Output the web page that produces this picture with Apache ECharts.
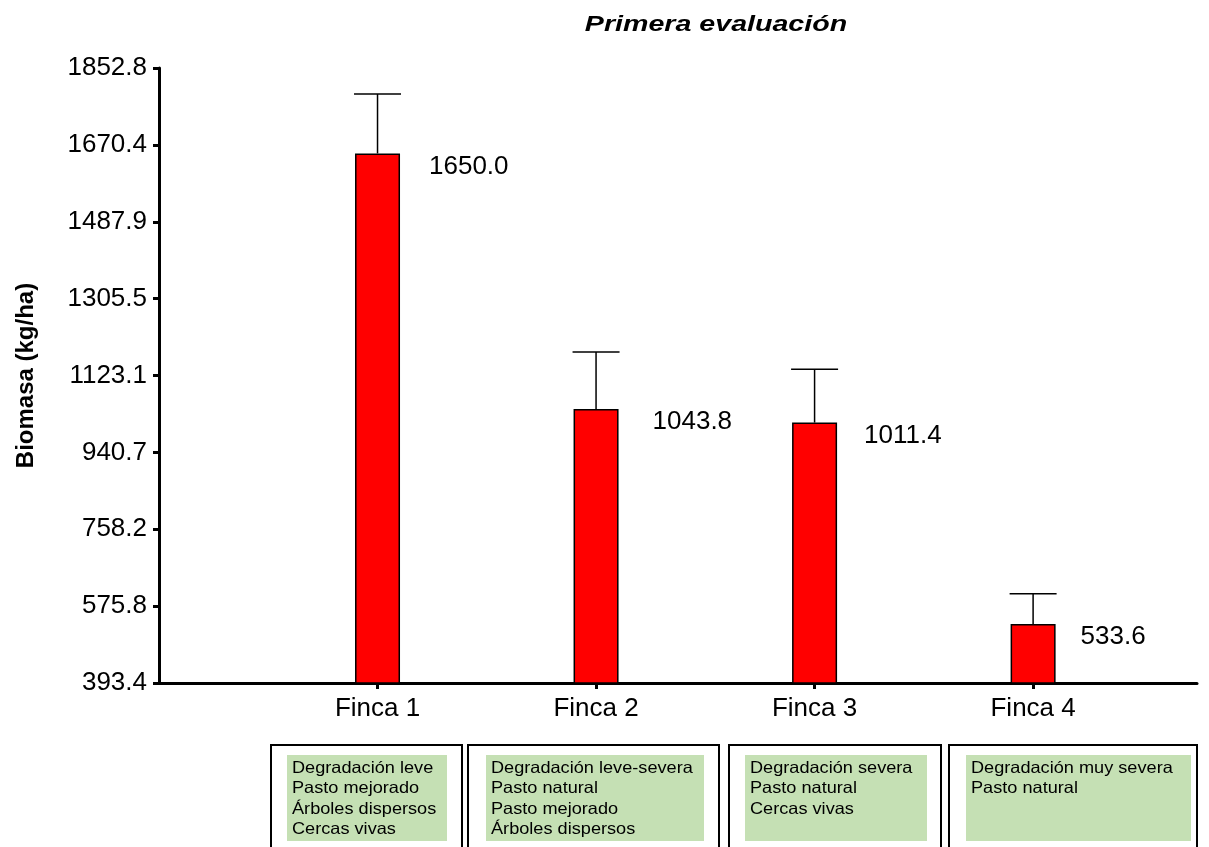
<!DOCTYPE html>
<html>
<head>
<meta charset="utf-8">
<script src="https://cdn.jsdelivr.net/npm/echarts@6/dist/echarts.min.js"></script>
<style>
html,body{margin:0;padding:0;background:#fff;}
#chart{width:1209px;height:847px;}
</style>
</head>
<body>
<div id="chart"></div>
<script>
const categories = ['Finca 1', 'Finca 2', 'Finca 3', 'Finca 4'];
const positions = [1, 2, 3, 4];
const biomasa = [1650.0, 1043.8, 1011.4, 533.6];
const errorTop = [1791, 1179, 1138, 605];
const yTicks = [393.4, 575.8, 758.2, 940.7, 1123.1, 1305.5, 1487.9, 1670.4, 1852.8];
const descriptions = [
  ['Degradación leve', 'Pasto mejorado', 'Árboles dispersos', 'Cercas vivas'],
  ['Degradación leve-severa', 'Pasto natural', 'Pasto mejorado', 'Árboles dispersos'],
  ['Degradación severa', 'Pasto natural', 'Cercas vivas'],
  ['Degradación muy severa', 'Pasto natural']
];
const titleText = 'Primera evaluación';
const yName = 'Biomasa (kg/ha)';

const FONT = '"Liberation Sans", Arial, sans-serif';
const chart = echarts.init(document.getElementById('chart'), null, {renderer: 'canvas'});

// styling: horizontal offset of each value label from the bar's left edge
const labelDx = [74, 79, 72, 70];

// annotation boxes below the axis
const boxes = [
  {x: 271, w: 191, gx: 287, gw: 160},
  {x: 468, w: 251, gx: 486, gw: 218},
  {x: 729, w: 212, gx: 745, gw: 182},
  {x: 949, w: 248, gx: 966, gw: 225}
];
const graphics = [];
boxes.forEach((b, i) => {
  graphics.push({type: 'rect', x: b.x, y: 745, shape: {width: b.w, height: 110},
    style: {fill: '#fff', stroke: '#000', lineWidth: 2}, silent: true});
  graphics.push({type: 'rect', x: b.gx, y: 755, shape: {width: b.gw, height: 86},
    style: {fill: '#C5E0B4'}, silent: true});
  graphics.push({type: 'text', x: b.gx + 5, y: 758, scaleX: 1.1,
    style: {text: descriptions[i].join('\n'), font: '16.5px ' + FONT, fill: '#000',
      lineHeight: 20.5, textAlign: 'left', textVerticalAlign: 'top'}, silent: true});
});
graphics.push({type: 'text', x: 716, y: 25, scaleX: 1.3,
  style: {text: titleText, font: 'italic bold 22px ' + FONT, fill: '#000',
    textAlign: 'center', textVerticalAlign: 'middle'}, silent: true});

chart.setOption({
  animation: false,
  backgroundColor: '#fff',
  grid: {left: 159, right: 12, top: 68, bottom: 164, containLabel: false},
  xAxis: {
    type: 'value', min: 0, max: 4.75,
    axisLine: {show: true, lineStyle: {color: '#000', width: 3}},
    axisTick: {show: true, length: 6, lineStyle: {color: '#000', width: 3}, customValues: positions},
    axisLabel: {customValues: positions, formatter: v => categories[Math.round(v) - 1] || '',
      margin: 13, fontFamily: FONT, fontSize: 26, color: '#000'},
    splitLine: {show: false}
  },
  yAxis: {
    type: 'value', min: yTicks[0], max: yTicks[yTicks.length - 1],
    name: yName, nameLocation: 'middle', nameGap: 121, nameRotate: 90,
    nameTextStyle: {fontFamily: FONT, fontSize: 24, fontWeight: 'bold', color: '#000'},
    axisLine: {show: true, lineStyle: {color: '#000', width: 3}},
    axisTick: {show: true, length: 6, lineStyle: {color: '#000', width: 3}, customValues: yTicks},
    axisLabel: {customValues: yTicks, formatter: v => v.toFixed(1), margin: 12,
      fontFamily: FONT, fontSize: 26, color: '#000'},
    splitLine: {show: false}
  },
  graphic: graphics,
  series: [
    {
      type: 'custom',
      z: 1,
      data: positions.map((p, i) => [p, biomasa[i], errorTop[i]]),
      renderItem: function (params, api) {
        const x = api.value(0);
        const p0 = api.coord([x, api.value(1)]);
        const p1 = api.coord([x, api.value(2)]);
        const hw = 23.5;
        return {
          type: 'group',
          children: [
            {type: 'line', shape: {x1: p0[0], y1: p0[1], x2: p1[0], y2: p1[1]},
              style: {stroke: '#000', lineWidth: 1.5}},
            {type: 'line', shape: {x1: p1[0] - hw, y1: p1[1], x2: p1[0] + hw, y2: p1[1]},
              style: {stroke: '#000', lineWidth: 1.5}}
          ]
        };
      }
    },
    {
      type: 'bar',
      z: 2,
      barWidth: 45,
      data: positions.map((p, i) => ({
        value: [p, biomasa[i]],
        label: {position: [labelDx[i], 13]}
      })),
      itemStyle: {color: '#FF0000', borderColor: '#000', borderWidth: 1.5},
      label: {
        show: true, position: [74, 13], align: 'left', verticalAlign: 'middle',
        formatter: p => biomasa[p.dataIndex].toFixed(1),
        fontFamily: FONT, fontSize: 26, color: '#000'
      }
    }
  ]
});
</script>
</body>
</html>
